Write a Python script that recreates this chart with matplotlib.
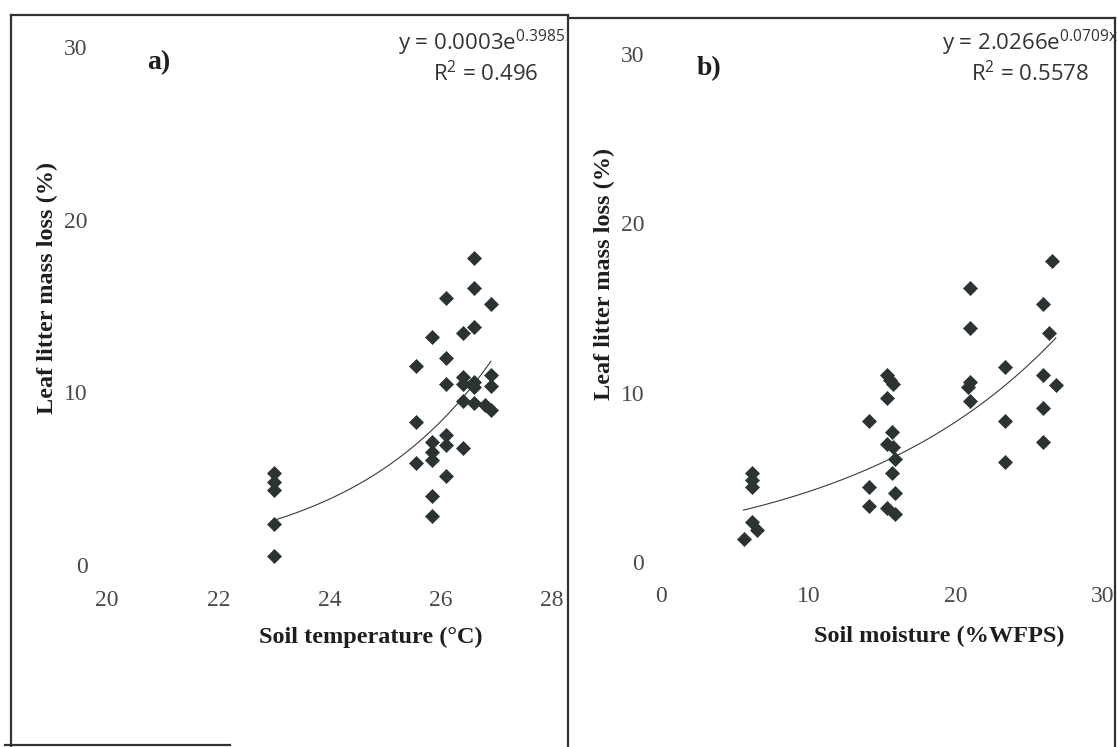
import matplotlib
matplotlib.use("Agg")
import matplotlib.pyplot as plt
import numpy as np
from matplotlib.lines import Line2D
from matplotlib.transforms import Bbox, TransformedBbox

# ========= data =========
# a) soil temperature (°C) vs leaf litter mass loss (%)
temp = [23.0, 23.0, 23.0, 23.0, 23.0,
        25.55, 25.55, 25.55,
        25.85, 25.85, 25.85, 25.85, 25.85, 25.85,
        26.1, 26.1, 26.1, 26.1, 26.1, 26.1,
        26.4, 26.4, 26.4, 26.4, 26.4,
        26.6, 26.6, 26.6, 26.6, 26.6, 26.6,
        26.9, 26.9, 26.9, 26.8, 26.9]
loss_a = [5.3, 4.8, 4.35, 2.4, 0.5,
          11.5, 8.3, 5.9,
          13.2, 7.1, 6.55, 6.1, 4.0, 2.85,
          15.45, 12.0, 10.5, 7.55, 6.95, 5.15,
          13.45, 10.9, 10.5, 9.5, 6.8,
          17.8, 16.05, 13.8, 10.6, 10.3, 9.4,
          15.1, 11.0, 10.35, 9.25, 9.0]

# b) soil moisture (%WFPS) vs leaf litter mass loss (%)
wfps = [6.2, 6.2, 6.2, 6.2, 6.5, 5.6,
        14.1, 14.1, 14.1,
        15.35, 15.55, 15.75, 15.35, 15.35, 15.7, 15.75, 15.9, 15.7, 15.9, 15.35, 15.9,
        21.0, 21.0, 21.0, 20.85, 21.0,
        23.35, 23.35, 23.35,
        25.9, 25.9, 25.9, 25.9,
        26.55, 26.35, 26.8]
loss_b = [5.25, 4.85, 4.45, 2.35, 1.9, 1.35,
          8.35, 4.4, 3.3,
          11.05, 10.75, 10.5, 9.7, 6.95, 7.7, 6.8, 6.1, 5.25, 4.1, 3.2, 2.85,
          16.2, 13.8, 10.65, 10.35, 9.5,
          11.5, 8.3, 5.9,
          15.25, 11.05, 9.1, 7.1,
          17.8, 13.5, 10.45]

eq_a = ("y = 0.0003e$^{\\mathrm{0.3985x}}$", "R$^{\\mathrm{2}}$ = 0.496")
eq_b = ("y = 2.0266e$^{\\mathrm{0.0709x}}$", "R$^{\\mathrm{2}}$ = 0.5578")
xticks_a = [20, 22, 24, 26, 28]
xticks_b = [0, 10, 20, 30]
yticks = [0, 10, 20, 30]

# ========= style =========
plt.rcParams["font.family"] = "Liberation Serif"
plt.rcParams["mathtext.fontset"] = "custom"
plt.rcParams["mathtext.rm"] = "Open Sans"
plt.rcParams["mathtext.it"] = "Open Sans:italic"
plt.rcParams["mathtext.bf"] = "Open Sans:bold"

W, H = 1117, 747
fig = plt.figure(figsize=(W / 100, H / 100), dpi=100)
fig.patch.set_facecolor("white")

mark_col = "#2c3333"
tick_col = "#4a4a4a"
lab_col = "#1e1e1e"


def exp_fit(x, y):
    # excel-style exponential trendline (least squares on ln y)
    x = np.asarray(x, float)
    b, ln_a = np.polyfit(x, np.log(np.asarray(y, float)), 1)
    xs = np.linspace(x.min(), x.max(), 100)
    return xs, np.exp(ln_a) * np.exp(b * xs)


def panel(rect, x, y, xticks, xlim, tag, xlabel, xl_pos, yl_pos, ypad, xpad):
    ax = fig.add_axes(rect)
    ax.plot(x, y, linestyle="none", marker="D", markersize=6.9,
            color=mark_col, markeredgecolor=mark_col, markeredgewidth=0.5, zorder=3)
    xs, ys = exp_fit(x, y)
    ax.plot(xs, ys, color="#3a3a3a", linewidth=0.8, zorder=2)
    ax.set_xlim(*xlim)
    ax.set_ylim(0, 30)
    ax.set_xticks(xticks)
    ax.set_yticks(yticks)
    ax.tick_params(axis="both", length=0, labelsize=17, labelcolor=tick_col)
    ax.tick_params(axis="y", pad=ypad)
    ax.tick_params(axis="x", pad=xpad)
    for s in ax.spines.values():
        s.set_visible(False)
    ax.patch.set_alpha(0)
    ax.set_xlabel(xlabel, fontsize=17.5, fontweight="bold", color=lab_col)
    ax.set_ylabel("Leaf litter mass loss (%)", fontsize=17.5, fontweight="bold", color=lab_col)
    ax.xaxis.set_label_coords(*xl_pos)
    ax.yaxis.set_label_coords(*yl_pos)
    ax.text(tag[1], tag[2], tag[0], transform=ax.transAxes, fontsize=20,
            fontweight="bold", color=lab_col, ha="center", va="center")
    return ax


ax1 = panel([107 / W, 1 - 565 / H, 445 / W, 518 / H], temp, loss_a, xticks_a, (20, 28),
            ("a)", 0.117, 0.97), "Soil temperature (\u00b0C)",
            (0.593, -0.12), (-0.11, 0.535), 14, 18)
ax2 = panel([661 / W, 1 - 562 / H, 442 / W, 508 / H], wfps, loss_b, xticks_b, (0, 30),
            ("b)", 0.109, 0.972), "Soil moisture (%WFPS)",
            (0.629, -0.125), (-0.105, 0.567), 12, 17)

# trendline equations (Excel style, centred two-line labels)
clip = TransformedBbox(Bbox([[0, 0], [566 / W, 1]]), fig.transFigure)
t1 = fig.text(486 / W, 1 - 43 / H, eq_a[0], fontsize=16, color="#333333",
              ha="center", va="center", family="Open Sans")
t1.set_clip_box(clip)
t1.set_clip_on(True)
fig.text(486 / W, 1 - 74 / H, eq_a[1], fontsize=16, color="#333333",
         ha="center", va="center", family="Open Sans")
fig.text(1030 / W, 1 - 43 / H, eq_b[0], fontsize=16, color="#333333",
         ha="center", va="center", family="Open Sans")
fig.text(1030 / W, 1 - 74 / H, eq_b[1], fontsize=16, color="#333333",
         ha="center", va="center", family="Open Sans")

# frame lines of the scanned figure
frame = [((11, 11), (15, 747)), ((11, 568), (15, 15)), ((568, 568), (15, 747)),
         ((568, 1115), (18, 18)), ((1115, 1115), (18, 747)), ((5, 230), (745, 745))]
for xs_, ys_ in frame:
    fig.add_artist(Line2D([v / W for v in xs_], [1 - v / H for v in ys_],
                          color="#333333", linewidth=1.6))

fig.savefig("out.png", dpi=100, facecolor="white")
